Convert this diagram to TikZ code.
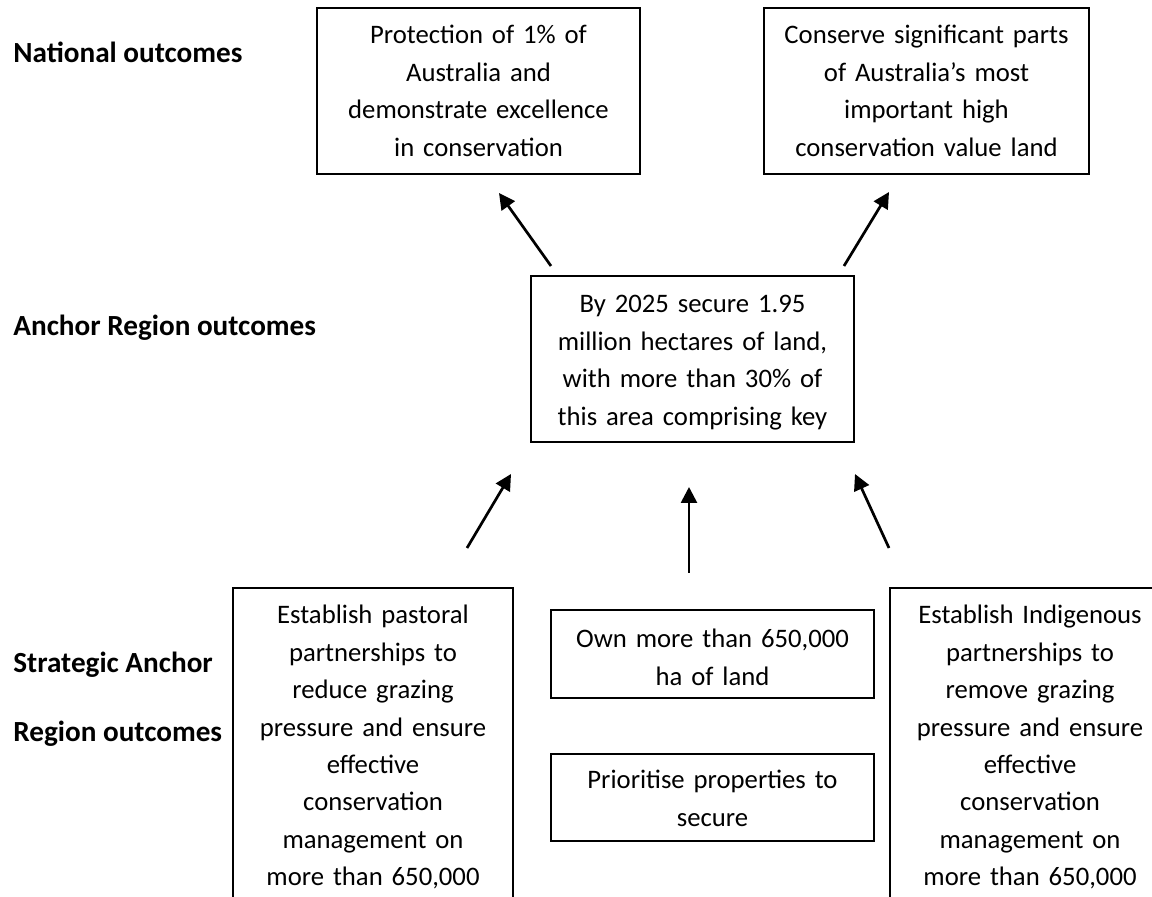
\documentclass[tikz,border=0pt]{standalone}
\usepackage{fontspec}
\setmainfont{Carlito}
\usetikzlibrary{arrows.meta}
\begin{document}
\begin{tikzpicture}[x=0.5pt,y=-0.5pt,
  outcomebox/.style={draw, line width=1pt, inner sep=0pt, anchor=north west, align=center,
    font=\fontsize{13.35pt}{18.7pt}\selectfont},
  levellabel/.style={anchor=base west, inner sep=0pt,
    font=\fontsize{14.6pt}{17pt}\selectfont\bfseries},
  uparrow/.style={line width=1.35pt, -{Triangle[length=8pt,width=8pt]}}]
\useasboundingbox (0,0) rectangle (1152,897);
\clip (0,0) rectangle (1152,897);
\fill[white] (0,0) rectangle (1152,897);

% level labels
\node[levellabel] (lnat) at (13,63) {National outcomes};
\node[levellabel] (lanc) at (13,336) {Anchor Region outcomes};
\node[levellabel] (lsa1) at (13,673) {Strategic Anchor};
\node[levellabel] (lsa2) at (13,742) {Region outcomes};

% national outcomes
\node[outcomebox, text width=161.5pt, text height=18pt, text depth=65pt] (nat1) at (316,7)
  {Protection of 1\% of\\Australia and\\demonstrate excellence\\in conservation};
\node[outcomebox, text width=162.5pt, text height=18pt, text depth=65pt] (nat2) at (763,7)
  {Conserve significant parts\\of Australia’s most\\important high\\conservation value land};

% anchor region outcome
\node[outcomebox, text width=161.5pt, text height=18.5pt, text depth=64.5pt] (anc) at (530,275)
  {By 2025 secure 1.95\\million hectares of land,\\with more than 30\% of\\this area comprising key};

% strategic anchor region outcomes
\node[outcomebox, text width=140pt, text height=18pt, text depth=200pt] (sl) at (232,587)
  {Establish pastoral\\partnerships to\\reduce grazing\\pressure and ensure\\effective\\conservation\\management on\\more than 650,000};
\node[outcomebox, text width=161.5pt, text height=19pt, text depth=25pt] (sm1) at (550,609)
  {Own more than 650,000\\ha of land};
\node[outcomebox, text width=161.5pt, text height=17.5pt, text depth=26pt] (sm2) at (550,753)
  {Prioritise properties to\\secure};
\node[outcomebox, text width=140pt, text height=18pt, text depth=200pt] (sr) at (889,587)
  {Establish Indigenous\\partnerships to\\remove grazing\\pressure and ensure\\effective\\conservation\\management on\\more than 650,000};

% arrow ends
\coordinate (a1s) at (551,266); \coordinate (a1e) at (499,193);
\coordinate (a2s) at (844,266); \coordinate (a2e) at (889,192);
\coordinate (b1s) at (467,548); \coordinate (b1e) at (511,474);
\coordinate (b2s) at (689,573); \coordinate (b2e) at (689,487);
\coordinate (b3s) at (889,548); \coordinate (b3e) at (855,474);

\draw[uparrow] (a1s) -- (a1e);
\draw[uparrow] (a2s) -- (a2e);
\draw[uparrow] (b1s) -- (b1e);
\draw[uparrow] (b2s) -- (b2e);
\draw[uparrow] (b3s) -- (b3e);
\end{tikzpicture}
\end{document}
